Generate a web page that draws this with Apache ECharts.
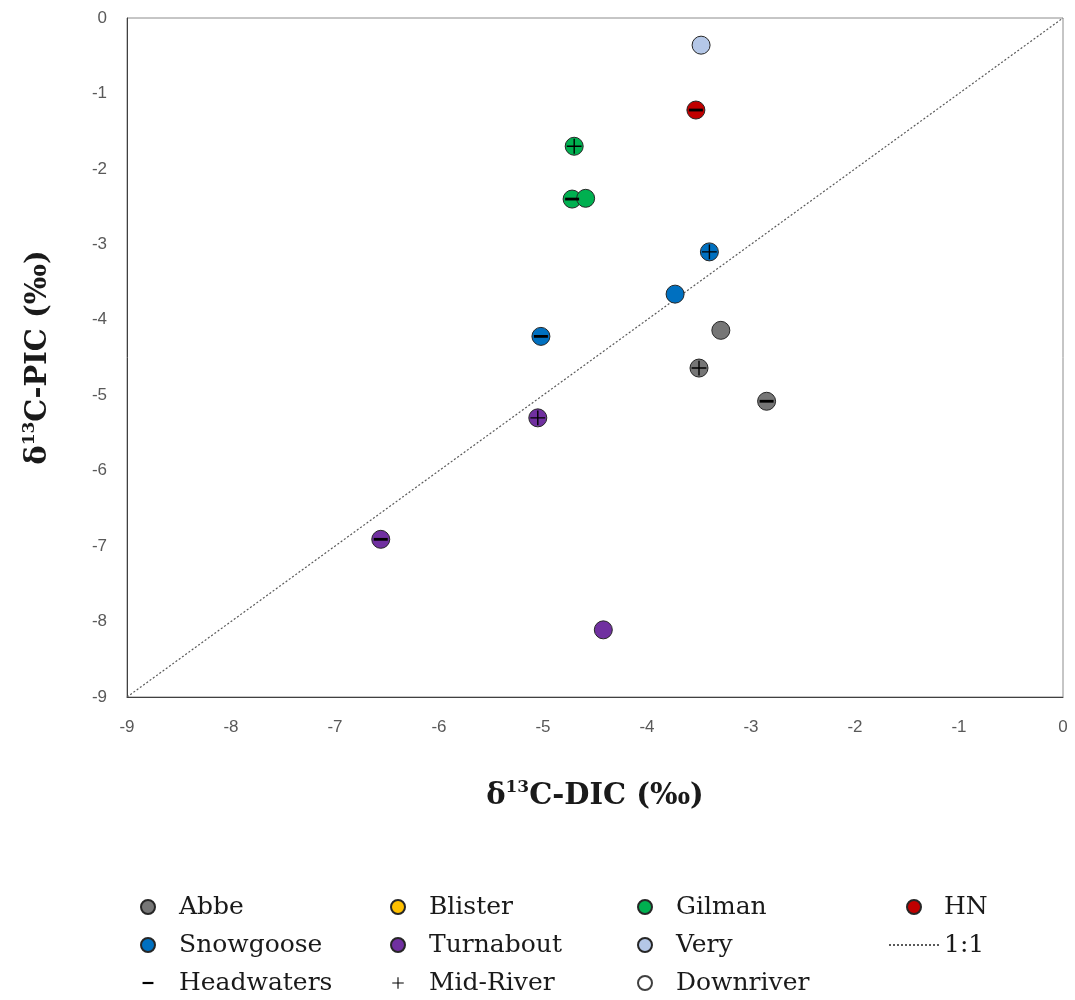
<!DOCTYPE html>
<html>
<head>
<meta charset="utf-8">
<script src="https://cdn.jsdelivr.net/npm/echarts@6/dist/echarts.min.js"></script>
<style>
  html, body { margin: 0; padding: 0; background: #fff; }
  #chart { width: 1075px; height: 1000px; }
</style>
</head>
<body>
<div id="chart"></div>
<script>
// δ13C of dissolved (DIC) vs particulate (PIC) inorganic carbon, by site and river position.
// Each point: [δ13C-DIC, δ13C-PIC, position]
const abbe = [[-2.85, -5.08, 'Headwaters'], [-3.50, -4.64, 'Mid-River'], [-3.29, -4.14, 'Downriver']];
const blister = [];
const gilman = [[-4.72, -2.40, 'Headwaters'], [-4.70, -1.70, 'Mid-River'], [-4.59, -2.39, 'Downriver']];
const hn = [[-3.53, -1.22, 'Headwaters']];
const snowgoose = [[-5.02, -4.22, 'Headwaters'], [-3.40, -3.10, 'Mid-River'], [-3.73, -3.66, 'Downriver']];
const turnabout = [[-6.56, -6.91, 'Headwaters'], [-5.05, -5.30, 'Mid-River'], [-4.42, -8.11, 'Downriver']];
const very = [[-3.48, -0.36, 'Downriver']];

const siteNames = ['Abbe', 'Blister', 'Gilman', 'HN', 'Snowgoose', 'Turnabout', 'Very'];
const siteData = [abbe, blister, gilman, hn, snowgoose, turnabout, very];
const siteColors = ['#767676', '#ffc000', '#00b050', '#c00000', '#0070c0', '#7030a0', '#b4c7e7'];

const positions = ['Headwaters', 'Mid-River', 'Downriver'];
const oneToOne = [[-9, -9], [0, 0]];
const axisTicks = [-9, -8, -7, -6, -5, -4, -3, -2, -1, 0];

// marker overlays (bar = headwaters, cross = mid-river)
const barPath = 'path://M0,0 M18,18 M2,7.6 H16 V10.4 H2 Z';
const plusPath = 'path://M0,0 M18,18 M8.3,1.6 H9.7 V8.3 H16.4 V9.7 H9.7 V16.4 H8.3 V9.7 H1.6 V8.3 H8.3 Z';

const allPoints = siteData.flat();
const byPosition = pos => allPoints.filter(p => p[2] === pos).map(p => [p[0], p[1]]);

const series = [];
series.push({
  name: '1:1',
  type: 'line',
  data: oneToOne,
  symbol: 'none',
  itemStyle: { color: '#595959' },
  lineStyle: { color: '#595959', width: 1.2, type: [2, 2] },
  z: 1,
  silent: true
});
siteNames.forEach((name, i) => {
  series.push({
    name: name,
    type: 'scatter',
    data: siteData[i].map(p => [p[0], p[1]]),
    symbol: 'circle',
    symbolSize: 18,
    itemStyle: { color: siteColors[i], borderColor: '#262626', borderWidth: 1, opacity: 1 },
    z: 2
  });
});
series.push({
  name: 'Headwaters', type: 'scatter', data: byPosition('Headwaters'),
  symbol: barPath, symbolSize: 18, symbolKeepAspect: true,
  itemStyle: { color: '#000', opacity: 1 }, z: 3, silent: true
});
series.push({
  name: 'Mid-River', type: 'scatter', data: byPosition('Mid-River'),
  symbol: plusPath, symbolSize: 18, symbolKeepAspect: true,
  itemStyle: { color: '#000', opacity: 1 }, z: 3, silent: true
});
series.push({
  name: 'Downriver', type: 'scatter', data: byPosition('Downriver'),
  symbol: 'circle', symbolSize: 0,
  itemStyle: { color: '#fff', borderColor: '#404040', borderWidth: 1, opacity: 1 }, z: 3, silent: true
});

const legendText = { fontFamily: 'DejaVu Serif', fontSize: 25, color: '#1a1a1a', lineHeight: 30 };
function legendCol(left, width, items) {
  return {
    orient: 'vertical', left: left, top: 892, padding: 0,
    itemWidth: width, itemHeight: 14, itemGap: 8,
    selectedMode: false,
    textStyle: legendText,
    data: items
  };
}

const titleRich = {
  a: { fontFamily: 'DejaVu Serif', fontWeight: 'bold', fontSize: 29, lineHeight: 34, color: '#1a1a1a' },
  s: { fontFamily: 'DejaVu Serif', fontWeight: 'bold', fontSize: 17, verticalAlign: 'top', color: '#1a1a1a' }
};

const tickLabel = {
  fontFamily: 'Liberation Sans', fontSize: 17, color: '#595959'
};

const option = {
  backgroundColor: '#fff',
  animation: false,
  grid: {
    left: 127, right: 12, top: 18, bottom: 303,
    show: true, borderColor: '#8c8c8c', borderWidth: 1
  },
  xAxis: {
    type: 'value', min: axisTicks[0], max: axisTicks[axisTicks.length - 1], interval: 1,
    name: '{a|δ}{s|13}{a|C-DIC (‰)}',
    nameLocation: 'middle', nameGap: 82,
    nameTextStyle: { rich: titleRich },
    axisLine: { onZero: false, lineStyle: { color: '#404040', width: 1 } },
    axisTick: { show: false },
    splitLine: { show: false },
    axisLabel: Object.assign({ margin: 22 }, tickLabel)
  },
  yAxis: {
    type: 'value', min: axisTicks[0], max: axisTicks[axisTicks.length - 1], interval: 1,
    name: '{a|δ}{s|13}{a|C-PIC (‰)}',
    nameLocation: 'middle', nameGap: 72, nameRotate: 90,
    nameTextStyle: { rich: titleRich },
    axisLine: { onZero: false, lineStyle: { color: '#404040', width: 1 } },
    axisTick: { show: false },
    splitLine: { show: false },
    axisLabel: Object.assign({ margin: 20 }, tickLabel)
  },
  legend: [
    legendCol(140, 52, [
      { name: 'Abbe', icon: 'circle' },
      { name: 'Snowgoose', icon: 'circle' },
      { name: 'Headwaters', icon: barPath }
    ]),
    legendCol(390, 52, [
      { name: 'Blister', icon: 'circle' },
      { name: 'Turnabout', icon: 'circle' },
      { name: 'Mid-River', icon: plusPath }
    ]),
    legendCol(637, 52, [
      { name: 'Gilman', icon: 'circle' },
      { name: 'Very', icon: 'circle' },
      { name: 'Downriver', icon: 'circle' }
    ]),
    legendCol(888, 50, [
      { name: 'HN', icon: 'circle' },
      { name: '1:1', itemStyle: { opacity: 0 } }
    ])
  ],
  series: series
};

echarts.init(document.getElementById('chart')).setOption(option);
</script>
</body>
</html>
